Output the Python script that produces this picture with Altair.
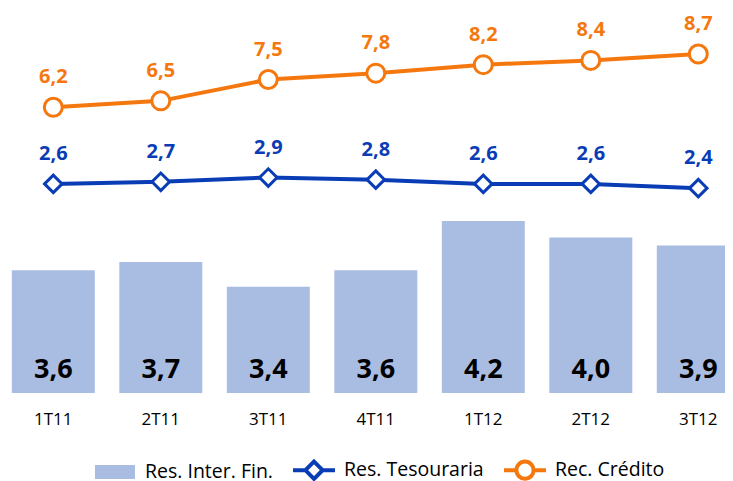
import altair as alt
import pandas as pd

quarters = ["1T11", "2T11", "3T11", "4T11", "1T12", "2T12", "3T12"]
res_inter_fin = [3.6, 3.7, 3.4, 3.6, 4.2, 4.0, 3.9]
res_tesouraria = [2.6, 2.7, 2.9, 2.8, 2.6, 2.6, 2.4]
rec_credito = [6.2, 6.5, 7.5, 7.8, 8.2, 8.4, 8.7]
series_names = ["Res. Inter. Fin.", "Res. Tesouraria", "Rec. Crédito"]
series_colors = ["#A9BDE3", "#0A3DB5", "#F5780F"]
bar_base = 2.105

FONT = "Open Sans"

bars_df = pd.DataFrame({"q": quarters, "v": res_inter_fin, "s": series_names[0]})
lines_df = pd.DataFrame({
    "q": quarters * 2,
    "v": res_tesouraria + rec_credito,
    "s": [series_names[1]] * len(quarters) + [series_names[2]] * len(quarters),
})

x_enc = alt.X(
    "q:N",
    sort=quarters,
    scale=alt.Scale(range=[-8.45, 744.05], paddingInner=0.228, paddingOuter=0.114),
    axis=alt.Axis(title=None, domain=False, ticks=False, tickSize=0, grid=False,
                  labelAngle=0, labelFont=FONT, labelFontSize=17, labelColor="black",
                  labelBaseline="middle", labelPadding=26),
)

bar_scale = alt.Scale(domain=[bar_base, 6.794], zero=False, nice=False)
line_scale = alt.Scale(domain=[-7.216, 10.859], zero=False, nice=False)
color_scale = alt.Scale(domain=series_names, range=series_colors)

bars = alt.Chart(bars_df).mark_bar(color=series_colors[0]).encode(
    x=x_enc,
    y=alt.Y("v:Q", scale=bar_scale, axis=None),
    y2=alt.datum(bar_base),
)
bar_text = alt.Chart(bars_df).transform_calculate(
    lab="replace(format(datum.v, '.1f'), '.', ',')"
).mark_text(font=FONT, fontSize=27, fontWeight="bold", color="black",
            baseline="alphabetic", dy=-15).encode(
    x=x_enc,
    y=alt.datum(bar_base, scale=bar_scale, axis=None),
    text="lab:N",
)

# legend symbols: closed outlines traced forward then backward so they have no fill
rect_path = "M-1,-0.25H1M-1,-0.0833H1M-1,0.0833H1M-1,0.25H1"
diamond_path = ("M-1.05,0H-0.43M0.43,0H1.05"
                "M-0.43,0L0,-0.43L0.43,0L0,0.43L-0.43,0L0,0.43L0.43,0L0,-0.43L-0.43,0")
circle_path = ("M-1.05,0H-0.43M0.43,0H1.05"
               "M-0.43,0A0.43,0.43,0,1,1,0.43,0A0.43,0.43,0,1,1,-0.43,0"
               "A0.43,0.43,0,1,0,0.43,0A0.43,0.43,0,1,0,-0.43,0")
sym_expr = (f"datum.value === '{series_names[0]}' ? '{rect_path}' : "
            f"datum.value === '{series_names[1]}' ? '{diamond_path}' : '{circle_path}'")

legend = alt.Legend(
    title=None, orient="none", legendX=85, legendY=440, direction="horizontal",
    symbolType=alt.ExprRef(expr=sym_expr), symbolSize=1600, symbolStrokeWidth=4,
    symbolFillColor="white", labelFont=FONT, labelFontSize=19.5, labelColor="black",
    labelOffset=8, columnPadding=12, padding=0,
)

lines = alt.Chart(lines_df).mark_line(strokeWidth=4).encode(
    x=x_enc,
    y=alt.Y("v:Q", scale=line_scale, axis=None),
    stroke=alt.Stroke("s:N", scale=color_scale, legend=legend),
)
pts_d = alt.Chart(lines_df).transform_filter(
    alt.datum.s == series_names[1]
).mark_point(shape="diamond", filled=True, fill="white", stroke=series_colors[1],
             strokeWidth=3, size=306, opacity=1).encode(
    x=x_enc, y=alt.Y("v:Q", scale=line_scale, axis=None),
)
pts_c = alt.Chart(lines_df).transform_filter(
    alt.datum.s == series_names[2]
).mark_point(shape="circle", filled=True, fill="white", stroke=series_colors[2],
             strokeWidth=3, size=324, opacity=1).encode(
    x=x_enc, y=alt.Y("v:Q", scale=line_scale, axis=None),
)
line_text = alt.Chart(lines_df).transform_calculate(
    lab="replace(format(datum.v, '.1f'), '.', ',')"
).mark_text(font=FONT, fontSize=20, fontWeight="bold", baseline="middle", dy=-30).encode(
    x=x_enc,
    y=alt.Y("v:Q", scale=line_scale, axis=None),
    text="lab:N",
    color=alt.Color("s:N", scale=color_scale, legend=None),
)

chart = alt.layer(
    alt.layer(bars, bar_text),
    alt.layer(lines, pts_d, pts_c, line_text),
).resolve_scale(y="independent").properties(
    width=717, height=385,
    autosize=alt.AutoSizeParams(type="none"),
    padding={"left": 0, "top": 0, "right": 0, "bottom": 96},
    background="white",
).configure_view(stroke=None)

chart.save("out.html", embed_options={"renderer": "svg", "actions": False})
